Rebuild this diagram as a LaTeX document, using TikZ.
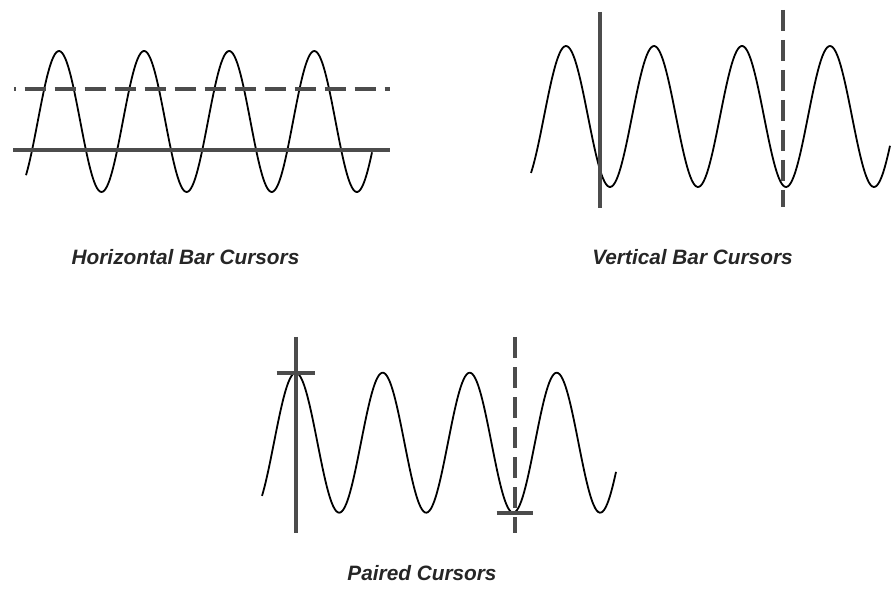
\documentclass[tikz,border=0pt]{standalone}
\usepackage{fontspec}
\setmainfont{Liberation Sans}

\begin{document}
\begin{tikzpicture}[
    x=1pt, y=-1pt,
    wave/.style={line width=1.8pt, black, smooth, samples=240},
    cursor/.style={line width=4pt, black!70},
    dcursor/.style={cursor, dash pattern=on 21pt off 9pt},
    caption/.style={anchor=base, inner sep=0pt, text=black!85, font=\fontsize{20.8}{25}\selectfont\bfseries\itshape}
]
    \useasboundingbox (0,0) rectangle (891,593);

    % Horizontal bar cursors
    \draw[wave, domain=26:372] plot (\x, {121.5-70.5*cos((\x-59)/85.1*360)});
    \draw[dcursor, dash phase=19.5pt] (14,89) -- (390,89);
    \draw[cursor] (13,150) -- (390,150);
    \node[caption] (hbar_label) at (185.5,265) {Horizontal Bar Cursors};

    % Vertical bar cursors
    \draw[wave, domain=531:890] plot (\x, {116.5-70.5*cos((\x-566)/88*360)});
    \draw[cursor] (599.5,12) -- (599.5,208);
    \draw[dcursor] (783,10) -- (783,207);
    \node[caption] (vbar_label) at (692.5,265) {Vertical Bar Cursors};

    % Paired cursors
    \draw[wave, domain=262:616] plot (\x, {442.7-70*cos((\x-295.7)/87*360)});
    \draw[cursor] (295.7,337) -- (295.7,533);
    \draw[cursor] (276.7,372.7) -- (315,372.7);
    \draw[dcursor] (515,337) -- (515,533);
    \draw[cursor] (496.7,512.7) -- (533,512.7);
    \node[caption] (paired_label) at (422,580) {Paired Cursors};
\end{tikzpicture}
\end{document}
